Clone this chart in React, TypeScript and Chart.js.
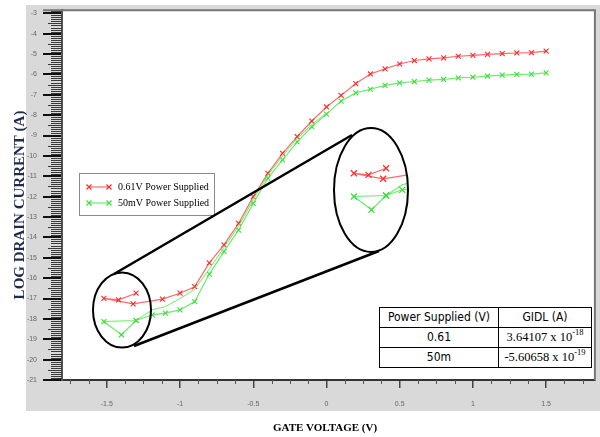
import React, { useEffect, useRef } from "react";
import { Chart, registerables } from "chart.js";

Chart.register(...registerables);

// ---- data ----
const xTickValues = [-1.5, -1, -0.5, 0, 0.5, 1, 1.5];
const yTickValues = [-3, -4, -5, -6, -7, -8, -9, -10, -11, -12, -13, -14, -15, -16, -17, -18, -19, -20, -21];

const redX = [-1.3, -1.42, -1.52, -1.32, -1.12, -1.0, -0.9, -0.8, -0.7, -0.6, -0.5, -0.4, -0.3, -0.2, -0.1, 0, 0.1, 0.2, 0.3, 0.4, 0.5, 0.6, 0.7, 0.8, 0.9, 1.0, 1.1, 1.2, 1.3, 1.4, 1.5];
const redY = [-16.74, -17.07, -16.99, -17.26, -17.03, -16.74, -16.42, -15.25, -14.37, -13.31, -12.0, -10.86, -9.88, -9.06, -8.29, -7.6, -7.03, -6.45, -5.98, -5.73, -5.49, -5.32, -5.24, -5.19, -5.11, -5.07, -5.02, -4.98, -4.95, -4.93, -4.86];

const greenX = [-1.3, -1.4, -1.52, -1.3, -1.19, -1.1, -1.0, -0.9, -0.8, -0.7, -0.6, -0.5, -0.4, -0.3, -0.2, -0.1, 0, 0.1, 0.2, 0.3, 0.4, 0.5, 0.6, 0.7, 0.8, 0.9, 1.0, 1.1, 1.2, 1.3, 1.4, 1.5];
const greenY = [-18.08, -18.78, -18.13, -18.08, -17.8, -17.72, -17.56, -17.15, -15.8, -14.7, -13.64, -12.33, -11.1, -10.2, -9.31, -8.57, -7.95, -7.31, -6.91, -6.73, -6.54, -6.42, -6.35, -6.28, -6.25, -6.17, -6.14, -6.09, -6.04, -6.0, -5.99, -5.93];

const greenReturnX = [-1.3, -1.19, -1.1, -1.0, -0.9, -0.8, -0.7, -0.6, -0.5, -0.4, -0.3, -0.2, -0.1, 0];
const greenReturnY = [-18.08, -17.55, -17.4, -17.0, -16.55, -15.55, -14.5, -13.45, -12.15, -10.95, -10.0, -9.15, -8.45, -7.9];

const legendLabels = ["0.61V Power Supplied", "50mV Power Supplied"];
const tableHeader = ["Power Supplied (V)", "GIDL (A)"];
const tableSupply = ["0.61", "50m"];
const tableMantissa = ["3.64107", "-5.60658"];
const tableExponent = ["-18", "-19"];

const xTitle = "GATE VOLTAGE (V)";
const yTitle = "LOG DRAIN CURRENT (A)";

const RED_LINE = "rgba(255,80,80,0.85)";
const RED_PT = "#ff2a2a";
const GREEN_LINE = "rgba(90,235,90,0.9)";
const GREEN_PT = "#3ede3e";

function toPts(xs: number[], ys: number[]) {
  return xs.map((x, i) => ({ x, y: ys[i] }));
}

function cross(ctx: CanvasRenderingContext2D, x: number, y: number, r: number) {
  ctx.beginPath();
  ctx.moveTo(x - r, y - r);
  ctx.lineTo(x + r, y + r);
  ctx.moveTo(x - r, y + r);
  ctx.lineTo(x + r, y - r);
  ctx.stroke();
}

const decorPlugin = {
  id: "decor",
  beforeDraw(chart: any) {
    const ctx = chart.ctx as CanvasRenderingContext2D;
    const a = chart.chartArea;
    ctx.save();
    ctx.fillStyle = "#ffffff";
    ctx.fillRect(0, 0, chart.width, chart.height);
    ctx.fillStyle = "#d9d9d9";
    ctx.fillRect(26, 5, chart.width - 26, 406);
    ctx.fillStyle = "#ffffff";
    ctx.fillRect(a.left, a.top, a.right - a.left, a.bottom - a.top);
    ctx.restore();
  },
  beforeDatasetsDraw(chart: any) {
    const ctx = chart.ctx as CanvasRenderingContext2D;
    const a = chart.chartArea;
    const xs = chart.scales.x;
    const ys = chart.scales.y;
    ctx.save();
    // minor y ticks
    ctx.strokeStyle = "#3a3a3a";
    ctx.lineWidth = 1;
    for (let k = -210; k <= -29; k++) {
      if (k % 10 === 0) continue;
      const v = k / 10;
      const py = Math.round(ys.getPixelForValue(v)) + 0.5;
      const len = k % 5 === 0 ? 14 : 11;
      ctx.beginPath();
      ctx.moveTo(a.left - len, py);
      ctx.lineTo(a.left, py);
      ctx.stroke();
    }
    // minor x ticks
    ctx.strokeStyle = "#555";
    for (let k = -14; k <= 14; k++) {
      if (k % 4 === 0) continue;
      const v = k * 0.125;
      const px = Math.round(xs.getPixelForValue(v)) + 0.5;
      ctx.beginPath();
      ctx.moveTo(px, a.bottom);
      ctx.lineTo(px, a.bottom + 4);
      ctx.stroke();
    }
    // frame top/right
    ctx.strokeStyle = "#777";
    ctx.lineWidth = 2;
    ctx.beginPath();
    ctx.moveTo(43, a.top);
    ctx.lineTo(a.right, a.top);
    ctx.lineTo(a.right, a.bottom);
    ctx.stroke();
    ctx.restore();
  },
  afterDraw(chart: any) {
    const ctx = chart.ctx as CanvasRenderingContext2D;
    const xs = chart.scales.x;
    const ys = chart.scales.y;
    ctx.save();

    // axis titles
    ctx.fillStyle = "#000";
    ctx.font = 'bold 11px "Liberation Serif", "Times New Roman", serif';
    ctx.textAlign = "center";
    ctx.textBaseline = "middle";
    ctx.fillText(xTitle, 325, 428);
    ctx.save();
    ctx.translate(20, 205);
    ctx.rotate(-Math.PI / 2);
    ctx.fillStyle = "#1f2c4c";
    ctx.font = 'bold 15px "Liberation Serif", "Times New Roman", serif';
    ctx.fillText(yTitle, 0, 0);
    ctx.restore();

    // legend box
    ctx.fillStyle = "#fff";
    ctx.fillRect(79.5, 173.5, 135, 42);
    ctx.strokeStyle = "#8a8a8a";
    ctx.lineWidth = 1;
    ctx.strokeRect(79.5, 173.5, 135, 42);
    const legendCols = [
      [RED_LINE, RED_PT],
      [GREEN_LINE, GREEN_PT],
    ];
    legendLabels.forEach((lab, i) => {
      const y = 187 + i * 16;
      ctx.strokeStyle = legendCols[i][0];
      ctx.lineWidth = 1.2;
      ctx.beginPath();
      ctx.moveTo(88, y);
      ctx.lineTo(110, y);
      ctx.stroke();
      ctx.strokeStyle = legendCols[i][1];
      cross(ctx, 89, y, 2.5);
      cross(ctx, 109, y, 2.5);
      ctx.fillStyle = "#000";
      ctx.font = '10px "Liberation Serif", "Times New Roman", serif';
      ctx.textAlign = "left";
      ctx.textBaseline = "middle";
      ctx.fillText(lab, 118, y + 0.5);
    });

    // magnifier: tangent lines
    ctx.strokeStyle = "#000";
    ctx.lineWidth = 2.5;
    ctx.beginPath();
    ctx.moveTo(114, 274);
    ctx.lineTo(352, 135);
    ctx.moveTo(134, 346);
    ctx.lineTo(379, 251);
    ctx.stroke();

    // left ellipse outline
    ctx.lineWidth = 2;
    ctx.beginPath();
    ctx.ellipse(122, 310, 29, 37.5, 0, 0, Math.PI * 2);
    ctx.stroke();

    // right ellipse with inset copy
    const cx = 371, cy = 190, rx = 37, ry = 62;
    ctx.save();
    ctx.beginPath();
    ctx.ellipse(cx, cy, rx, ry, 0, 0, Math.PI * 2);
    ctx.fillStyle = "#fff";
    ctx.fill();
    ctx.clip();
    ctx.translate(250, -125);
    const series: [number[], number[], string, string, boolean][] = [
      [greenReturnX, greenReturnY, GREEN_LINE, GREEN_PT, false],
      [greenX, greenY, GREEN_LINE, GREEN_PT, true],
      [redX, redY, RED_LINE, RED_PT, true],
    ];
    series.forEach(([sx, sy, lc, pc, mk]) => {
      const pts = sx.map((x, i) => [xs.getPixelForValue(x), ys.getPixelForValue(sy[i])]);
      ctx.strokeStyle = lc;
      ctx.lineWidth = 1.2;
      ctx.beginPath();
      pts.forEach(([px, py], i) => (i === 0 ? ctx.moveTo(px, py) : ctx.lineTo(px, py)));
      ctx.stroke();
      if (mk) {
        ctx.strokeStyle = pc;
        pts.forEach(([px, py]) => cross(ctx, px, py, 3));
      }
    });
    ctx.restore();
    ctx.strokeStyle = "#000";
    ctx.lineWidth = 2;
    ctx.beginPath();
    ctx.ellipse(cx, cy, rx, ry, 0, 0, Math.PI * 2);
    ctx.stroke();

    ctx.restore();
  },
};

export default function App() {
  const ref = useRef<HTMLCanvasElement | null>(null);

  useEffect(() => {
    if (!ref.current) return;
    const chart = new Chart(ref.current, {
      type: "line",
      data: {
        datasets: [
          {
            label: "return",
            data: toPts(greenReturnX, greenReturnY),
            borderColor: GREEN_LINE,
            borderWidth: 1,
            pointRadius: 0,
            tension: 0,
          },
          {
            label: legendLabels[1],
            data: toPts(greenX, greenY),
            borderColor: GREEN_LINE,
            borderWidth: 1.2,
            pointStyle: "crossRot",
            pointRadius: 3.5,
            pointBorderColor: GREEN_PT,
            pointBorderWidth: 1.1,
            tension: 0,
          },
          {
            label: legendLabels[0],
            data: toPts(redX, redY),
            borderColor: RED_LINE,
            borderWidth: 1.2,
            pointStyle: "crossRot",
            pointRadius: 3.5,
            pointBorderColor: RED_PT,
            pointBorderWidth: 1.1,
            tension: 0,
          },
        ] as any,
      },
      options: {
        responsive: false,
        devicePixelRatio: 1,
        animation: false,
        layout: { padding: { left: 0, right: 3, top: 10, bottom: 0 } },
        plugins: { legend: { display: false }, tooltip: { enabled: false }, title: { display: false } },
        scales: {
          x: {
            type: "linear",
            min: -1.806,
            max: 1.833,
            afterBuildTicks: (s: any) => {
              s.ticks = xTickValues.map((v) => ({ value: v }));
            },
            afterFit: (s: any) => {
              s.height = 57;
            },
            grid: { drawOnChartArea: false, drawTicks: true, tickLength: 8, color: "#444", lineWidth: 1.5 },
            border: { display: true, color: "#333", width: 2 },
            ticks: {
              font: { size: 7, family: '"Liberation Sans", Arial, sans-serif' },
              color: "#666",
              padding: 12,
              maxRotation: 0,
              autoSkip: false,
              callback: (v: any) => String(v),
            },
          },
          y: {
            type: "linear",
            min: -21,
            max: -2.85,
            afterBuildTicks: (s: any) => {
              s.ticks = yTickValues.map((v) => ({ value: v }));
            },
            afterFit: (s: any) => {
              s.width = 62;
            },
            grid: { drawOnChartArea: false, drawTicks: true, tickLength: 19, color: "#111", lineWidth: 2 },
            border: { display: true, color: "#555", width: 2 },
            ticks: {
              font: { size: 7, family: '"Liberation Sans", Arial, sans-serif' },
              color: "#666",
              padding: 6,
              autoSkip: false,
              callback: (v: any) => String(v),
            },
          },
        },
      } as any,
      plugins: [decorPlugin],
    });
    return () => chart.destroy();
  }, []);

  const cellBase: React.CSSProperties = {
    border: "1px solid #000",
    height: 19,
    padding: 0,
    textAlign: "center",
    verticalAlign: "middle",
    lineHeight: "19px",
  };
  const sansCell: React.CSSProperties = {
    ...cellBase,
    fontFamily: '"Liberation Sans Narrow", "DejaVu Sans Condensed", sans-serif',
    fontSize: 12,
  };
  const serifCell: React.CSSProperties = {
    ...cellBase,
    fontFamily: '"Liberation Serif", "Times New Roman", serif',
    fontSize: 12.5,
  };

  return (
    <div style={{ position: "fixed", left: 0, top: 0, width: 600, height: 437, background: "#fff" }}>
      <canvas ref={ref} width={600} height={437} style={{ display: "block" }} />
      <table
        style={{
          position: "absolute",
          left: 379,
          top: 307,
          width: 212,
          borderCollapse: "collapse",
          background: "#fff",
          tableLayout: "fixed",
        }}
      >
        <colgroup>
          <col style={{ width: 119 }} />
          <col style={{ width: 93 }} />
        </colgroup>
        <tbody>
          <tr>
            <td style={sansCell}>{tableHeader[0]}</td>
            <td style={sansCell}>{tableHeader[1]}</td>
          </tr>
          {tableSupply.map((s, i) => (
            <tr key={s}>
              <td style={sansCell}>{s}</td>
              <td style={serifCell}>
                {tableMantissa[i]} x 10
                <sup style={{ fontSize: 8.5, lineHeight: 0, verticalAlign: "6px" }}>{tableExponent[i]}</sup>
              </td>
            </tr>
          ))}
        </tbody>
      </table>
    </div>
  );
}
